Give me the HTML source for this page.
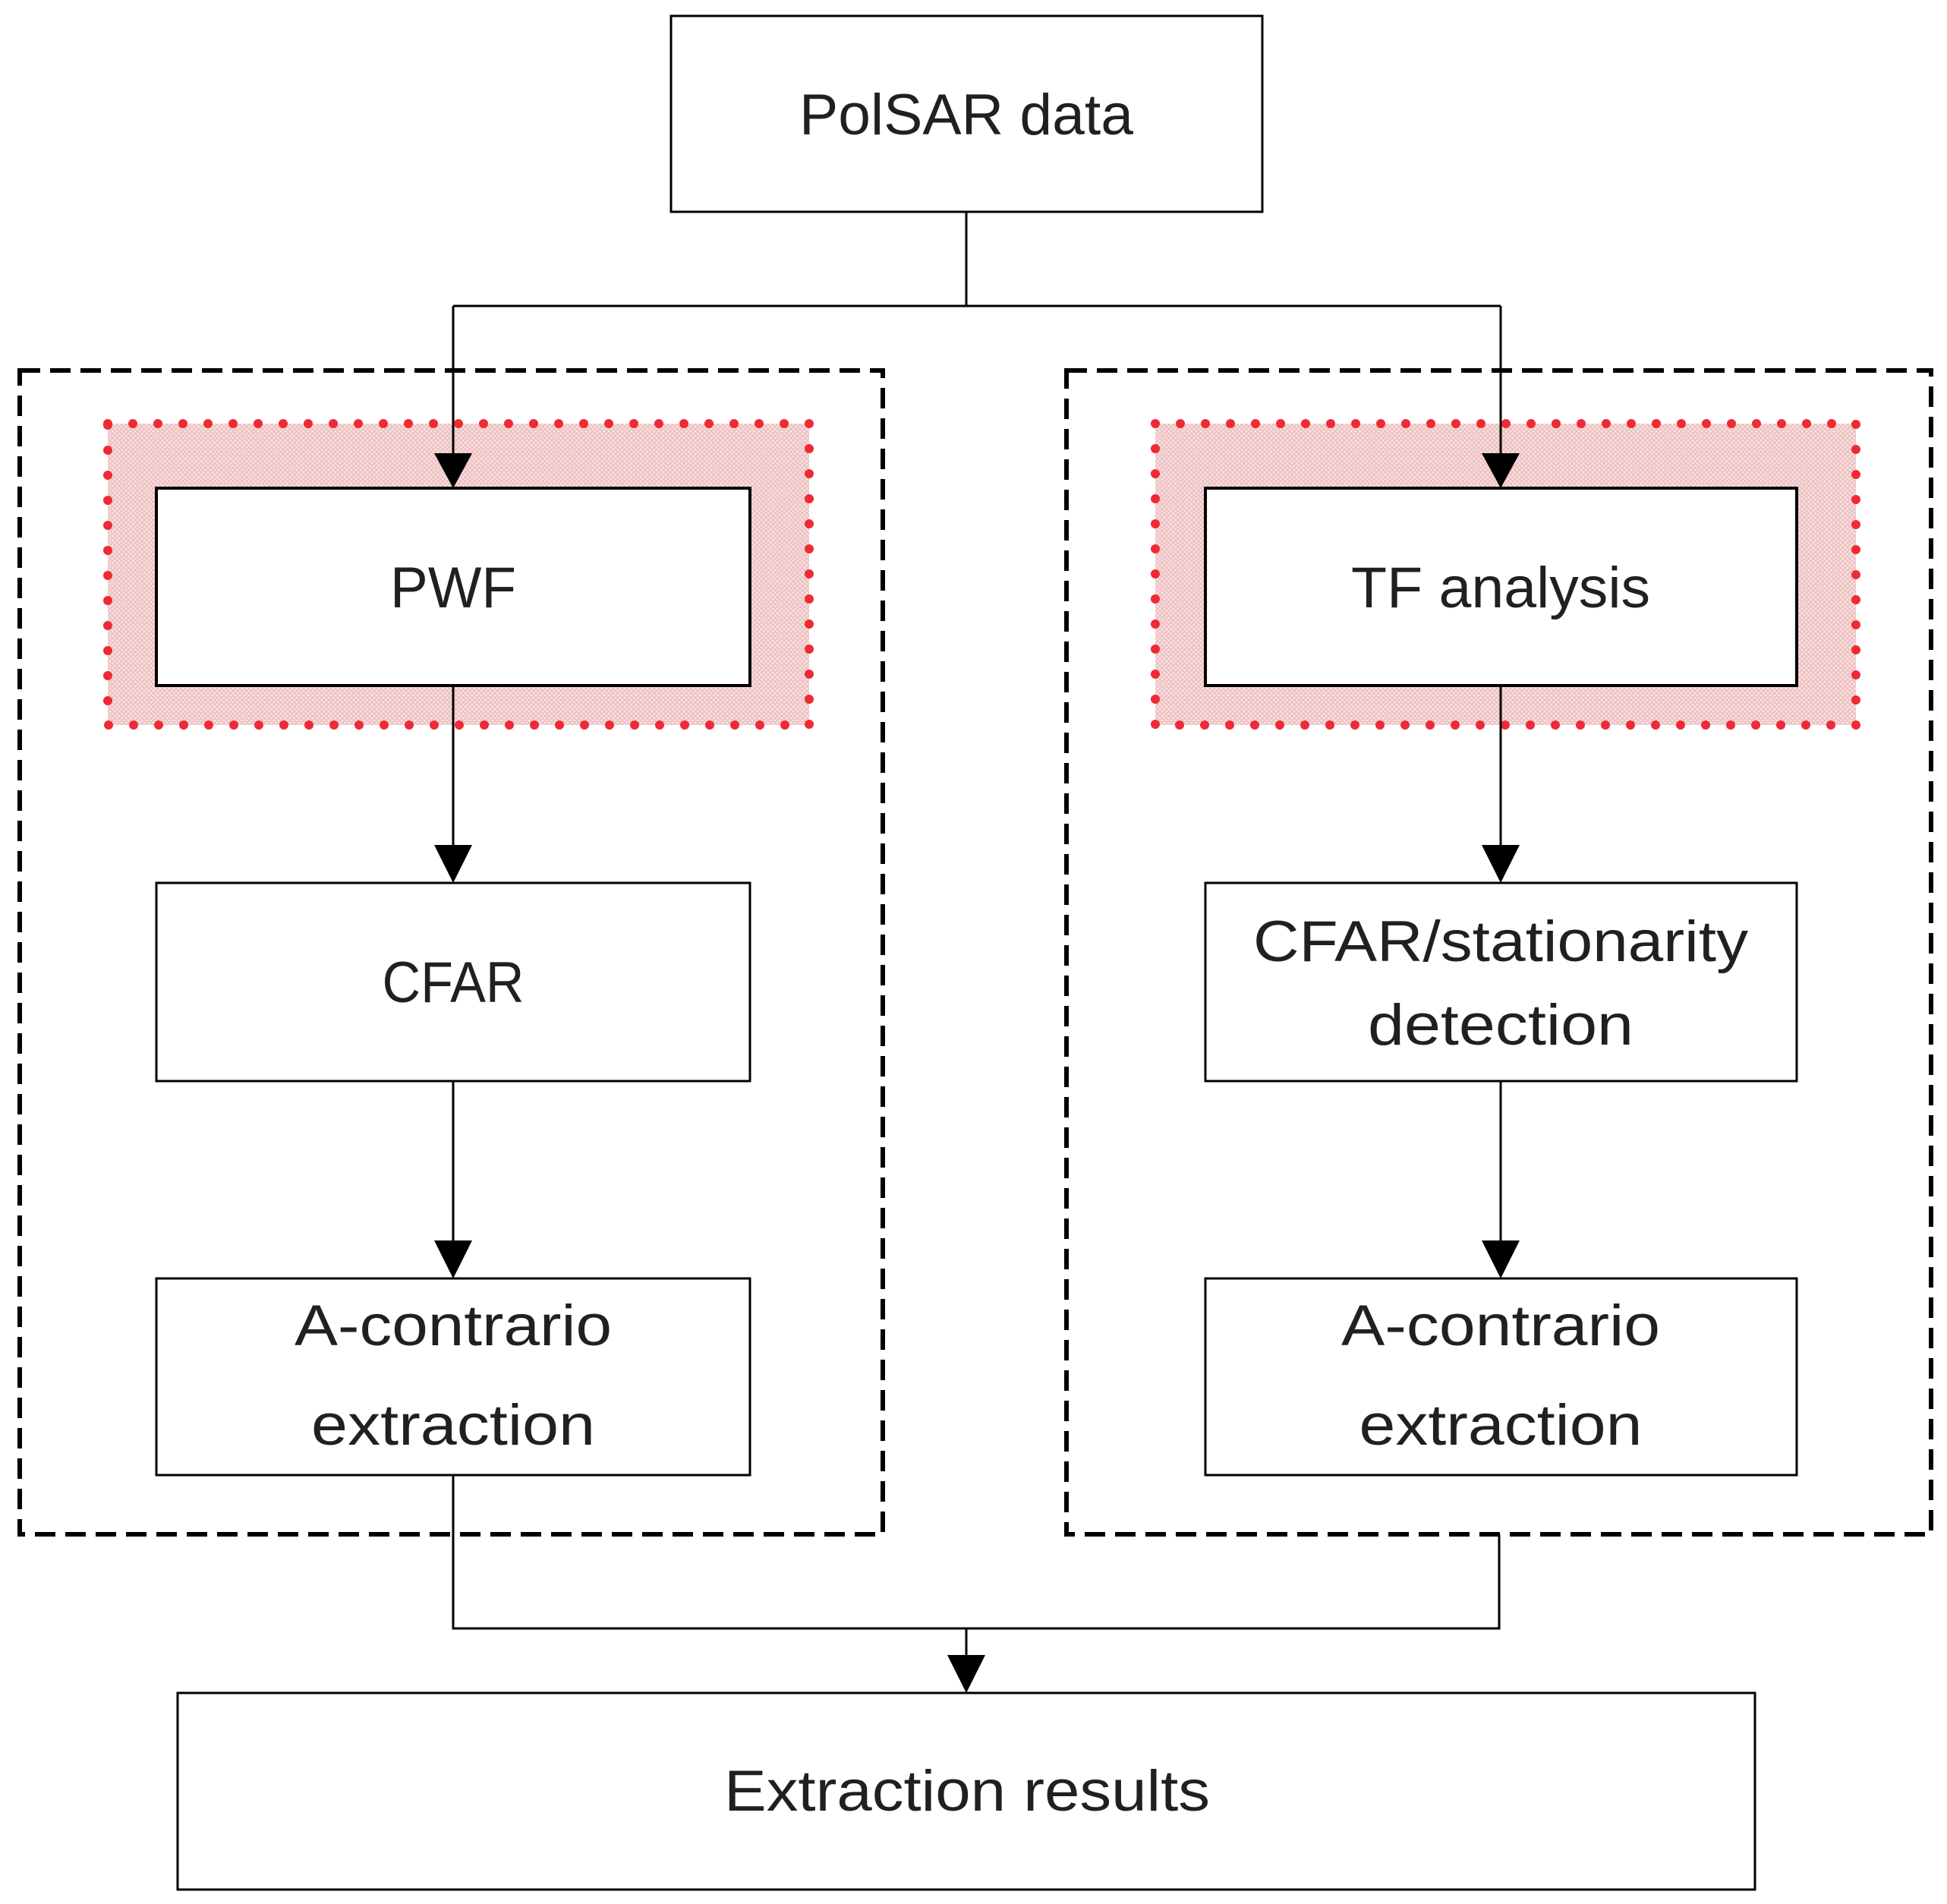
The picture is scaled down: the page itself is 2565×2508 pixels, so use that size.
<!DOCTYPE html>
<html><head><meta charset="utf-8"><style>
html,body{margin:0;padding:0;background:#fff;}
svg{display:block;}
text{font-family:"Liberation Sans",sans-serif;font-size:76px;fill:#231f20;text-anchor:middle;}
</style></head><body>
<svg width="2565" height="2508" viewBox="0 0 2565 2508" xmlns="http://www.w3.org/2000/svg">
<defs>
<pattern id="pk" width="6" height="6" patternUnits="userSpaceOnUse">
<rect width="6" height="6" fill="#efc6c6"/>
<rect x="0" y="0" width="2" height="2" fill="#fbeaea"/>
<rect x="3" y="3" width="2" height="2" fill="#fbeaea"/>
</pattern>
</defs>
<!-- dashed groups -->
<rect x="26" y="488" width="1137" height="1533" fill="none" stroke="#000" stroke-width="6" stroke-dasharray="27 13"/>
<rect x="1405" y="488" width="1139" height="1533" fill="none" stroke="#000" stroke-width="6" stroke-dasharray="27 13"/>
<!-- red highlight areas -->
<rect x="142" y="558" width="924" height="397" fill="url(#pk)"/>
<rect x="142" y="558" width="924" height="397" fill="none" stroke="#ee2a34" stroke-width="12" stroke-linecap="round" stroke-dasharray="0 33"/>
<rect x="1522" y="558" width="923" height="397" fill="url(#pk)"/>
<rect x="1522" y="558" width="923" height="397" fill="none" stroke="#ee2a34" stroke-width="12" stroke-linecap="round" stroke-dasharray="0 33"/>
<!-- connectors -->
<g stroke="#000" stroke-width="3" fill="none">
<path d="M1273 279 V403 M597 403 H1977 M597 403 V605 M1977 403 V605"/>
<path d="M597 903 V1115 M1977 903 V1115"/>
<path d="M597 1424 V1634 M1977 1424 V1634"/>
<path d="M597 1943 V2145 H1975 V2021 M1273 2145 V2182"/>
</g>
<g fill="#000">
<polygon points="572,597 622,597 597,643"/>
<polygon points="1952,597 2002,597 1977,643"/>
<polygon points="572,1113 622,1113 597,1163"/>
<polygon points="1952,1113 2002,1113 1977,1163"/>
<polygon points="572,1634 622,1634 597,1684"/>
<polygon points="1952,1634 2002,1634 1977,1684"/>
<polygon points="1248,2180 1298,2180 1273,2230"/>
</g>
<!-- boxes -->
<g fill="#fff" stroke="#000" stroke-width="3">
<rect x="884" y="21" width="779" height="258"/>
<rect x="206" y="643" width="782" height="260" stroke-width="4"/>
<rect x="1588" y="643" width="779" height="260" stroke-width="4"/>
<rect x="206" y="1163" width="782" height="261"/>
<rect x="1588" y="1163" width="779" height="261"/>
<rect x="206" y="1684" width="782" height="259"/>
<rect x="1588" y="1684" width="779" height="259"/>
<rect x="234" y="2230" width="2078" height="259"/>
</g>
<!-- labels -->
<text x="1273" y="177" textLength="440" lengthAdjust="spacingAndGlyphs">PolSAR data</text>
<text x="597" y="800" textLength="166" lengthAdjust="spacingAndGlyphs">PWF</text>
<text x="1977" y="800" textLength="394" lengthAdjust="spacingAndGlyphs">TF analysis</text>
<text x="597" y="1320" textLength="187" lengthAdjust="spacingAndGlyphs">CFAR</text>
<text x="1977" y="1266" textLength="652" lengthAdjust="spacingAndGlyphs">CFAR/stationarity</text>
<text x="1977" y="1376" textLength="350" lengthAdjust="spacingAndGlyphs">detection</text>
<text x="597" y="1772" textLength="418" lengthAdjust="spacingAndGlyphs">A-contrario</text>
<text x="597" y="1903" textLength="374" lengthAdjust="spacingAndGlyphs">extraction</text>
<text x="1977" y="1772" textLength="420" lengthAdjust="spacingAndGlyphs">A-contrario</text>
<text x="1977" y="1903" textLength="373" lengthAdjust="spacingAndGlyphs">extraction</text>
<text x="1274" y="2385" textLength="640" lengthAdjust="spacingAndGlyphs">Extraction results</text>
</svg>
</body></html>
